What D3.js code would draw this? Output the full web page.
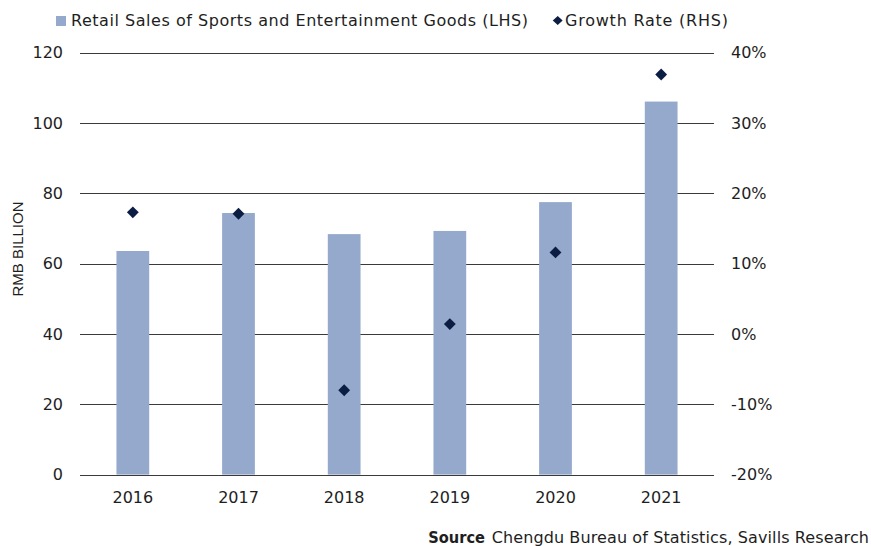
<!DOCTYPE html>
<html>
<head>
<meta charset="utf-8">
<script src="https://cdn.jsdelivr.net/npm/d3@7"></script>
<style>
  body { margin: 0; background: #fff; }
  svg { font-family: "DejaVu Sans", sans-serif; }
</style>
</head>
<body>
<svg id="chart"></svg>
<script>
const years = ['2016', '2017', '2018', '2019', '2020', '2021'];
const sales = [63.6, 74.4, 68.4, 69.3, 77.5, 106.1];
const growth = [17.3, 17.1, -8.0, 1.4, 11.6, 36.9];
const leftTicks = [0, 20, 40, 60, 80, 100, 120];
const rightTicks = [-20, -10, 0, 10, 20, 30, 40];

const svg = d3.select('#chart')
  .attr('width', 871)
  .attr('height', 546);

const margin = { top: 52.7, right: 157, bottom: 71.4, left: 80 };
const width = 871;
const height = 546;
const font = '"DejaVu Sans", sans-serif';
const textColor = '#1e1e1e';

const x = d3.scaleBand()
  .domain(years)
  .range([margin.left, width - margin.right])
  .paddingInner(0.69)
  .paddingOuter(0.345);

const y = d3.scaleLinear()
  .domain([0, 120])
  .range([height - margin.bottom, margin.top]);

const y2 = d3.scaleLinear()
  .domain([-20, 40])
  .range([height - margin.bottom, margin.top]);

// gridlines
svg.append('g')
  .selectAll('line')
  .data(leftTicks)
  .join('line')
  .attr('x1', margin.left)
  .attr('x2', width - margin.right)
  .attr('y1', d => Math.round(y(d)) + 0.5)
  .attr('y2', d => Math.round(y(d)) + 0.5)
  .attr('stroke', '#3a3a3a')
  .attr('stroke-width', 1.2);

// bars
svg.append('g')
  .selectAll('rect')
  .data(years)
  .join('rect')
  .attr('x', d => x(d))
  .attr('width', x.bandwidth())
  .attr('y', (d, i) => y(sales[i]))
  .attr('height', (d, i) => y(0) - y(sales[i]))
  .attr('fill', '#95a9cc');

// baseline over bars
svg.append('line')
  .attr('x1', margin.left)
  .attr('x2', width - margin.right)
  .attr('y1', Math.round(y(0)) + 0.5)
  .attr('y2', Math.round(y(0)) + 0.5)
  .attr('stroke', '#3a3a3a')
  .attr('stroke-width', 1.2);

// growth diamonds
const diamond = d3.symbol().type(d3.symbolSquare).size(70);
svg.append('g')
  .selectAll('path')
  .data(years)
  .join('path')
  .attr('d', diamond)
  .attr('transform', (d, i) => `translate(${x(d) + x.bandwidth() / 2},${y2(growth[i])}) rotate(45)`)
  .attr('fill', '#0b1d42');

function styleTicks(g) {
  g.select('.domain').remove();
  g.selectAll('text')
    .attr('font-size', 16)
    .attr('fill', textColor)
    .style('font-family', font);
}

// left axis
svg.append('g')
  .attr('transform', `translate(${margin.left - 17},0)`)
  .call(d3.axisLeft(y).tickValues(leftTicks).tickSize(0).tickPadding(0))
  .call(styleTicks);

// right axis
svg.append('g')
  .attr('transform', `translate(${width - margin.right + 17},0)`)
  .call(d3.axisRight(y2).tickValues(rightTicks).tickSize(0).tickPadding(0).tickFormat(d => d + '%'))
  .call(styleTicks);

// bottom axis
svg.append('g')
  .attr('transform', `translate(0,${height - margin.bottom})`)
  .call(d3.axisBottom(x).tickSize(0).tickPadding(17))
  .call(styleTicks);

// y axis title
svg.append('text')
  .attr('transform', `translate(23,249) rotate(-90)`)
  .attr('text-anchor', 'middle')
  .attr('font-size', 15)
  .attr('fill', textColor)
  .style('font-family', '"Liberation Sans", Arial, sans-serif')
  .text('RMB BILLION');

// legend
const legend = svg.append('g');
legend.append('rect')
  .attr('x', 56).attr('y', 16)
  .attr('width', 10).attr('height', 10)
  .attr('fill', '#95a9cc');
legend.append('text')
  .attr('x', 71).attr('y', 25.7)
  .attr('font-size', 16)
  .attr('fill', textColor)
  .attr('textLength', 457)
  .attr('lengthAdjust', 'spacing')
  .text('Retail Sales of Sports and Entertainment Goods (LHS)');
legend.append('path')
  .attr('d', d3.symbol().type(d3.symbolSquare).size(40))
  .attr('transform', 'translate(557.7,20.5) scale(1.1,1) rotate(45)')
  .attr('fill', '#0b1d42');
legend.append('text')
  .attr('x', 565).attr('y', 25.7)
  .attr('font-size', 16)
  .attr('fill', textColor)
  .attr('textLength', 163)
  .attr('lengthAdjust', 'spacing')
  .text('Growth Rate (RHS)');

// source
svg.append('text')
  .attr('x', 428.3).attr('y', 543.3)
  .attr('font-size', 16)
  .attr('font-weight', 'bold')
  .attr('fill', textColor)
  .attr('textLength', 56.7)
  .attr('lengthAdjust', 'spacingAndGlyphs')
  .text('Source');
svg.append('text')
  .attr('x', 491.7).attr('y', 543.3)
  .attr('font-size', 16)
  .attr('fill', textColor)
  .attr('textLength', 377.3)
  .attr('lengthAdjust', 'spacing')
  .text('Chengdu Bureau of Statistics, Savills Research');
</script>
</body>
</html>
